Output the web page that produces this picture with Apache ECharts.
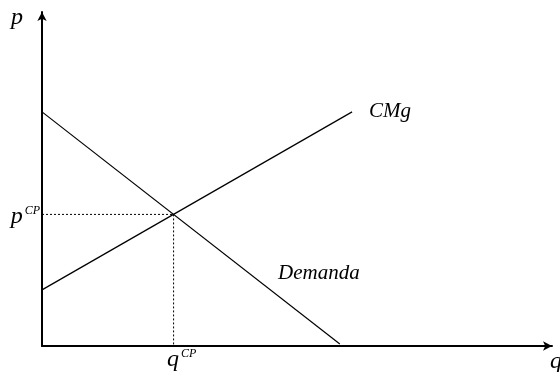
<!DOCTYPE html>
<html>
<head>
<meta charset="utf-8">
<script src="https://cdn.jsdelivr.net/npm/echarts@6/dist/echarts.min.js"></script>
<style>
	html, body { margin: 0; padding: 0; background: #fff; }
	#chart { width: 560px; height: 372px; }
</style>
</head>
<body>
<div id="chart"></div>
<script>
	// curvas (unidades del gráfico, 0-100)
	var demandaX = [0, 58.4];
	var demandaY = [70.1, 0.6];
	var cmgX = [0, 60.8];
	var cmgY = [16.8, 70.1];
	// equilibrio competitivo
	var qCP = 25.8;
	var pCP = 39.4;

	var serif = "'Liberation Serif', 'DejaVu Serif', serif";

	function pares(xs, ys) {
		var out = [];
		for(var i = 0; i < xs.length; i++) {
			out.push([xs[i], ys[i]]);
		}
		return out;
	}

	var supRich = {
		b: { fontFamily: serif, fontStyle: 'italic', fontSize: 24, color: '#000', verticalAlign: 'bottom' },
		s: { fontFamily: serif, fontStyle: 'italic', fontSize: 12, color: '#000', verticalAlign: 'top', padding: [0, 0, 0, 2] }
	};

	var Chart = echarts.init(document.getElementById('chart'));
	var option = {
		backgroundColor: '#fff',
		animation: false,
		grid: {
			left: 42,
			right: 8,
			top: 12,
			bottom: 26
		},
		xAxis: {
			type: 'value',
			min: 0,
			max: 100,
			splitLine: { show: false },
			axisTick: { show: false },
			axisLabel: { show: false },
			axisLine: {
				onZero: false,
				symbol: ['none', 'arrow'],
				symbolSize: [7, 9],
				lineStyle: { color: '#000', width: 2 }
			}
		},
		yAxis: {
			type: 'value',
			min: 0,
			max: 100,
			splitLine: { show: false },
			axisTick: { show: false },
			axisLabel: { show: false },
			axisLine: {
				show: true,
				onZero: false,
				symbol: ['none', 'arrow'],
				symbolSize: [7, 9],
				lineStyle: { color: '#000', width: 2 }
			}
		},
		series: [{
			name: 'Demanda',
			type: 'line',
			data: pares(demandaX, demandaY),
			showSymbol: false,
			lineStyle: { color: '#000', width: 1.2 }
		}, {
			name: 'CMg',
			type: 'line',
			data: pares(cmgX, cmgY),
			showSymbol: false,
			lineStyle: { color: '#000', width: 1.2 },
			endLabel: {
				show: true,
				formatter: 'CMg',
				offset: [9, 0],
				color: '#000',
				fontFamily: serif,
				fontStyle: 'italic',
				fontSize: 21
			}
		}, {
			name: 'pCP',
			type: 'line',
			data: [[0, pCP], [qCP, pCP]],
			showSymbol: false,
			lineStyle: { color: '#000', width: 1, type: [2, 2] },
			markPoint: {
				symbol: 'circle',
				symbolSize: 0,
				itemStyle: { color: 'transparent' },
				data: [{ coord: [0, pCP] }],
				label: {
					show: true,
					position: 'left',
					distance: 2,
					offset: [0, 2],
					formatter: '{b|p}{s|CP}',
					rich: supRich
				}
			}
		}, {
			name: 'qCP',
			type: 'line',
			data: [[qCP, pCP], [qCP, 0]],
			showSymbol: false,
			lineStyle: { color: '#000', width: 1, type: [2, 2] },
			markPoint: {
				symbol: 'circle',
				symbolSize: 0,
				itemStyle: { color: 'transparent' },
				data: [{ coord: [qCP, 0] }],
				label: {
					show: true,
					position: 'bottom',
					distance: 0,
					offset: [8, 2],
					formatter: '{b|q}{s|CP}',
					rich: supRich
				}
			}
		}],
		graphic: [{
			type: 'text',
			left: 11,
			top: 6,
			style: { text: 'p', font: 'italic 24px ' + serif, fill: '#000' }
		}, {
			type: 'text',
			left: 550,
			top: 350,
			style: { text: 'q', font: 'italic 24px ' + serif, fill: '#000' }
		}, {
			type: 'text',
			left: 278,
			top: 263,
			style: { text: 'Demanda', font: 'italic 21px ' + serif, fill: '#000' }
		}]
	};
	Chart.setOption(option);
</script>
</body>
</html>
